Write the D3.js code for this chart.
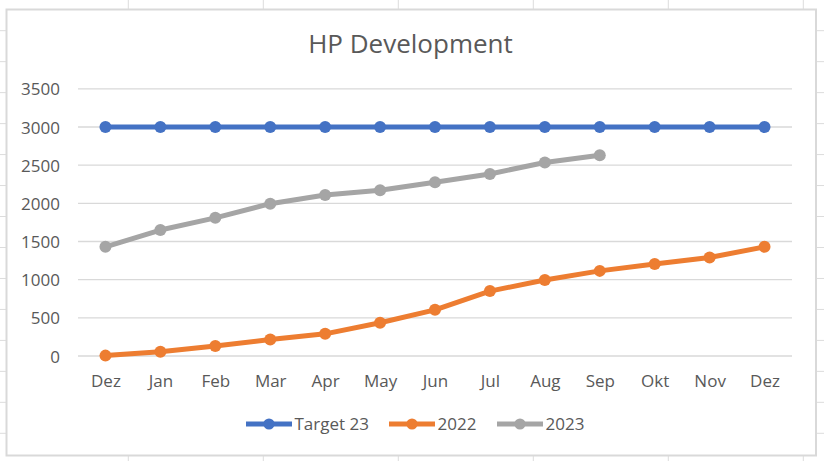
<!DOCTYPE html>
<html>
<head>
<meta charset="utf-8">
<script src="https://cdn.jsdelivr.net/npm/d3@7"></script>
<style>
  html, body { margin: 0; padding: 0; background: #fff; }
  svg { display: block; }
  text { font-family: "Open Sans", "Noto Sans", sans-serif; fill: #595959; }
</style>
</head>
<body>
<svg id="chart" width="824" height="461"></svg>
<script>
const categories = ["Dez","Jan","Feb","Mar","Apr","May","Jun","Jul","Aug","Sep","Okt","Nov","Dez"];
const target23 = [3000,3000,3000,3000,3000,3000,3000,3000,3000,3000,3000,3000,3000];
const values2022 = [5,55,130,215,290,435,605,850,995,1115,1205,1290,1430];
const values2023 = [1430,1650,1810,1995,2110,2170,2275,2385,2535,2630,null,null,null];
const yTicks = [0,500,1000,1500,2000,2500,3000,3500];
const seriesNames = ["Target 23","2022","2023"];
const seriesColors = ["#4472C4","#ED7D31","#A5A5A5"];
const titleText = "HP Development";

const W = 824, H = 461;
const svg = d3.select("#chart");

// spreadsheet background grid
const bg = svg.append("g");
const colXs = d3.range(0, 7).map(k => 128.3 + 135 * (k - 1)).filter(x => x > 0 && x < W);
const rowYs = d3.range(-1, 15).map(k => 30.7 + 30.97 * k).filter(y => y > 0 && y < H);
bg.selectAll("line.c").data(colXs).join("line")
  .attr("x1", d => d).attr("x2", d => d).attr("y1", 0).attr("y2", H)
  .attr("stroke", "#dcdcdc").attr("stroke-width", 1);
bg.selectAll("line.r").data(rowYs).join("line")
  .attr("x1", 0).attr("x2", W).attr("y1", d => d).attr("y2", d => d)
  .attr("stroke", "#dcdcdc").attr("stroke-width", 1);

// chart area
svg.append("rect")
  .attr("x", 6.5).attr("y", 9.5).attr("width", 809.5).attr("height", 446)
  .attr("fill", "#fff").attr("stroke", "#d9d9d9").attr("stroke-width", 2);

const plot = { left: 78, right: 792, top: 50, bottom: 356 };

const x = d3.scalePoint().domain(d3.range(categories.length))
  .range([plot.left, plot.right]).padding(0.5);
const y = d3.scaleLinear().domain([0, 3500]).range([plot.bottom, plot.bottom - 7 * 38.17]);

// gridlines
svg.append("g").selectAll("line").data(yTicks).join("line")
  .attr("x1", plot.left).attr("x2", plot.right)
  .attr("y1", d => y(d)).attr("y2", d => y(d))
  .attr("stroke", "#d9d9d9").attr("stroke-width", 1.3);

// y axis labels
const yAxis = d3.axisLeft(y).tickValues(yTicks).tickFormat(d3.format("d")).tickSize(0).tickPadding(0);
const yg = svg.append("g").attr("transform", `translate(60,0)`).call(yAxis);
yg.select(".domain").remove();
yg.selectAll("text").attr("font-size", "17px").attr("fill", "#595959")
  .attr("font-family", '"Open Sans", sans-serif').attr("dy", "0.36em");

// x axis labels
const xAxis = d3.axisBottom(x).tickFormat(i => categories[i]).tickSize(0).tickPadding(0);
const xg = svg.append("g").attr("transform", `translate(0,${plot.bottom})`).call(xAxis);
xg.select(".domain").remove();
xg.selectAll("text").attr("font-size", "17px").attr("fill", "#595959")
  .attr("font-family", '"Open Sans", sans-serif').attr("dy", null).attr("y", 31);

// series
const allSeries = [target23, values2022, values2023];
const line = d3.line().defined(d => d != null).x((d, i) => x(i)).y(d => y(d));
allSeries.forEach((vals, si) => {
  const g = svg.append("g");
  g.append("path").datum(vals).attr("d", line)
    .attr("fill", "none").attr("stroke", seriesColors[si]).attr("stroke-width", 5)
    .attr("stroke-linejoin", "round");
  g.selectAll("circle").data(vals.map((v, i) => ({ v, i })).filter(d => d.v != null))
    .join("circle").attr("cx", d => x(d.i)).attr("cy", d => y(d.v)).attr("r", 6)
    .attr("fill", seriesColors[si]);
});

// title
svg.append("text").attr("x", 410.5).attr("y", 53).attr("text-anchor", "middle")
  .attr("font-size", "26px").text(titleText);

// legend
const legendX = [246, 389, 497];
const leg = svg.append("g");
seriesNames.forEach((name, i) => {
  const lx = legendX[i], ly = 424;
  leg.append("line").attr("x1", lx).attr("x2", lx + 46).attr("y1", ly).attr("y2", ly)
    .attr("stroke", seriesColors[i]).attr("stroke-width", 5);
  leg.append("circle").attr("cx", lx + 23).attr("cy", ly).attr("r", 5.6).attr("fill", seriesColors[i]);
  leg.append("text").attr("x", lx + 48.5).attr("y", ly).attr("dy", "0.36em")
    .attr("font-size", "17px").text(name);
});
</script>
</body>
</html>
